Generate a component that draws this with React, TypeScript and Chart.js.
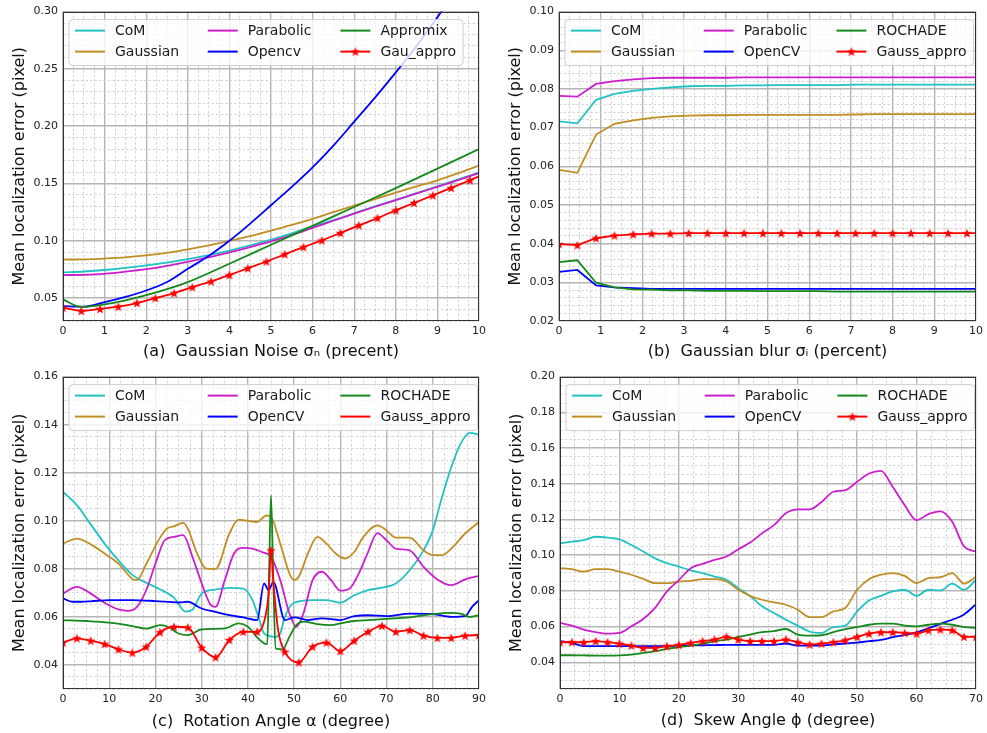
import React, { useEffect, useRef } from 'react';
import { Chart, registerables } from 'chart.js';

Chart.register(...registerables);

const FONT = '"DejaVu Sans", "Noto Sans", sans-serif';

const COL_COM = '#22c2c2';
const COL_GAUSS = '#c08e22';
const COL_PARA = '#cc1fcc';
const COL_CV = '#0000ff';
const COL_ROCH = '#14881a';
const COL_GA = '#ff0000';

// ---------- (a) Gaussian noise ----------
const aX = [0, 0.5, 1, 1.5, 2, 2.5, 3, 3.5, 4, 4.5, 5, 5.5, 6, 6.5, 7, 7.5, 8, 8.5, 9, 9.5, 10];
const aCoM = [0.0724, 0.0732, 0.0745, 0.0763, 0.0785, 0.081, 0.084, 0.0875, 0.0915, 0.096, 0.101, 0.1065, 0.1125, 0.118, 0.124, 0.13, 0.1357, 0.1416, 0.1475, 0.1535, 0.1594];
const aGaussian = [0.0836, 0.0838, 0.0845, 0.0855, 0.0872, 0.0895, 0.0925, 0.096, 0.1, 0.104, 0.1088, 0.1138, 0.1192, 0.125, 0.1307, 0.1364, 0.1421, 0.1475, 0.1528, 0.159, 0.1657];
const aParabolic = [0.0701, 0.0703, 0.0712, 0.073, 0.0752, 0.0782, 0.0818, 0.0855, 0.0898, 0.0945, 0.0995, 0.105, 0.1112, 0.1175, 0.1237, 0.1297, 0.1355, 0.1413, 0.147, 0.153, 0.1592];
const aOpencv = [0.043, 0.0425, 0.0465, 0.051, 0.0566, 0.064, 0.0755, 0.0867, 0.1, 0.115, 0.131, 0.147, 0.164, 0.183, 0.204, 0.225, 0.247, 0.27, 0.295, 0.322, 0.35];
const aApproX = [0, 0.44, 1, 1.5, 2, 3, 4, 5, 6, 7, 8, 9, 10];
const aAppromix = [0.0488, 0.0423, 0.0445, 0.048, 0.0525, 0.064, 0.08, 0.0965, 0.113, 0.1295, 0.146, 0.163, 0.18];
const aGaX = [0, 0.44, 0.89, 1.33, 1.78, 2.22, 2.67, 3.11, 3.56, 4, 4.44, 4.89, 5.33, 5.78, 6.22, 6.67, 7.11, 7.56, 8, 8.44, 8.89, 9.33, 9.78, 10];
const aGauAppro = [0.0417, 0.0388, 0.0405, 0.0425, 0.0457, 0.05, 0.0543, 0.0595, 0.0645, 0.0701, 0.076, 0.0819, 0.0882, 0.0945, 0.1003, 0.1068, 0.1134, 0.1198, 0.1266, 0.133, 0.1396, 0.1461, 0.1528, 0.1562];

// ---------- (b) Gaussian blur ----------
const bX = [0, 0.44, 0.89, 1.33, 1.78, 2.22, 2.67, 3.11, 3.56, 4, 4.44, 4.89, 5.33, 5.78, 6.22, 6.67, 7.11, 7.56, 8, 8.44, 8.89, 9.33, 9.78, 10];
const bCoM = [0.0716, 0.0711, 0.0772, 0.0787, 0.0795, 0.08, 0.0804, 0.0807, 0.0808, 0.0808, 0.0809, 0.0809, 0.081, 0.081, 0.081, 0.081, 0.0811, 0.0811, 0.0811, 0.0811, 0.0811, 0.0811, 0.0811, 0.0811];
const bGaussian = [0.0591, 0.0583, 0.0682, 0.071, 0.0719, 0.0725, 0.0729, 0.0731, 0.0732, 0.0732, 0.0733, 0.0733, 0.0733, 0.0733, 0.0733, 0.0733, 0.0734, 0.0735, 0.0735, 0.0735, 0.0735, 0.0735, 0.0735, 0.0735];
const bParabolic = [0.0782, 0.078, 0.0813, 0.082, 0.0825, 0.0828, 0.0829, 0.0829, 0.0829, 0.0829, 0.083, 0.083, 0.083, 0.083, 0.083, 0.083, 0.083, 0.083, 0.083, 0.083, 0.083, 0.083, 0.083, 0.083];
const bOpenCV = [0.0327, 0.0332, 0.0292, 0.0287, 0.0285, 0.0283, 0.0283, 0.0283, 0.0283, 0.0283, 0.0283, 0.0283, 0.0283, 0.0283, 0.0283, 0.0283, 0.0283, 0.0283, 0.0283, 0.0283, 0.0283, 0.0283, 0.0283, 0.0283];
const bRochade = [0.0352, 0.0357, 0.0299, 0.0287, 0.0282, 0.0281, 0.0279, 0.0279, 0.0278, 0.0278, 0.0278, 0.0277, 0.0277, 0.0277, 0.0277, 0.0276, 0.0276, 0.0276, 0.0276, 0.0276, 0.0276, 0.0276, 0.0276, 0.0276];
const bGaussAppro = [0.0399, 0.0396, 0.0414, 0.0421, 0.0424, 0.0426, 0.0426, 0.0427, 0.0427, 0.0427, 0.0427, 0.0427, 0.0427, 0.0427, 0.0427, 0.0427, 0.0427, 0.0427, 0.0427, 0.0427, 0.0427, 0.0427, 0.0427, 0.0427];

// ---------- (c) Rotation angle ----------
const cComX = [0, 3, 6, 9, 12, 15, 18, 21, 24, 26.5, 28, 30, 33, 36, 39, 41, 42.5, 43.5, 46, 47, 48, 50, 54, 57, 60, 63, 66, 69, 72, 75, 78, 80, 82, 84, 86, 88, 90];
const cComY = [0.112, 0.1065, 0.0985, 0.0905, 0.0835, 0.0775, 0.0742, 0.0715, 0.068, 0.0622, 0.063, 0.0697, 0.0714, 0.0721, 0.0718, 0.067, 0.0587, 0.0531, 0.0517, 0.0531, 0.06, 0.0659, 0.067, 0.067, 0.0659, 0.069, 0.0711, 0.0722, 0.0739, 0.0794, 0.0877, 0.096, 0.1099, 0.1223, 0.132, 0.1366, 0.1359];
const cGaussX = [0, 3, 6, 9, 12, 15, 16, 18, 21, 22.5, 24, 26, 27, 29, 31, 33, 36, 38, 40, 42, 44, 45, 47, 49, 50, 51, 53, 55, 57, 59, 61, 63, 65, 68, 70, 72, 75, 78, 80, 82, 84, 87, 90];
const cGaussY = [0.0905, 0.0926, 0.0902, 0.0864, 0.0822, 0.0758, 0.0753, 0.082, 0.093, 0.0968, 0.0977, 0.0991, 0.0967, 0.0864, 0.0801, 0.08, 0.0947, 0.1005, 0.1, 0.0995, 0.1022, 0.1016, 0.0905, 0.078, 0.0753, 0.0767, 0.0864, 0.0933, 0.0905, 0.0864, 0.0843, 0.087, 0.0933, 0.0981, 0.096, 0.093, 0.093, 0.0877, 0.0857, 0.0857, 0.0884, 0.0947, 0.0995];
const cParaX = [0, 3, 6, 9, 12, 14, 16, 18, 20, 22, 24, 26, 28, 30, 32, 33, 35, 37, 39, 41, 43, 45, 47, 49, 50.5, 52, 54, 56, 58, 60, 62, 64, 66, 68, 70, 72, 75, 78, 81, 84, 87, 90];
const cParaY = [0.0697, 0.0725, 0.0697, 0.0659, 0.0631, 0.0625, 0.0642, 0.0711, 0.0822, 0.0919, 0.0933, 0.094, 0.085, 0.074, 0.0649, 0.0642, 0.0753, 0.0864, 0.0887, 0.0884, 0.087, 0.085, 0.0753, 0.0614, 0.0559, 0.0614, 0.0753, 0.0788, 0.0753, 0.0709, 0.0718, 0.0781, 0.087, 0.0949, 0.0919, 0.0884, 0.0877, 0.0808, 0.0756, 0.0732, 0.0756, 0.0771];
const cCvX = [0, 2, 4, 6, 10, 15, 20, 25, 27, 30, 33, 36, 39, 42, 43.5, 44.5, 45.5, 48, 50, 53, 56, 60, 63, 66, 70, 75, 80, 84, 87, 88.5, 90];
const cCvY = [0.0677, 0.0663, 0.0663, 0.0665, 0.067, 0.067, 0.0666, 0.066, 0.0663, 0.0635, 0.0621, 0.0607, 0.0598, 0.0587, 0.0739, 0.0711, 0.0746, 0.0587, 0.0598, 0.0587, 0.0594, 0.0587, 0.0603, 0.0607, 0.0603, 0.0614, 0.0612, 0.06, 0.0603, 0.0642, 0.067];
const cRochX = [0, 5, 10, 15, 18, 21, 23, 25, 27, 30, 35, 38, 40, 42, 43.5, 44.2, 44.6, 45, 45.5, 46, 47.5, 49, 50.5, 52, 55, 58, 60, 63, 66, 70, 75, 80, 84, 86, 88, 90];
const cRochY = [0.0587, 0.0583, 0.0576, 0.0562, 0.0551, 0.0566, 0.0556, 0.0531, 0.0524, 0.0548, 0.0552, 0.0573, 0.0559, 0.0515, 0.049, 0.0487, 0.08, 0.1106, 0.075, 0.0469, 0.0465, 0.0518, 0.0566, 0.058, 0.057, 0.0566, 0.0573, 0.0583, 0.0587, 0.0592, 0.0598, 0.0612, 0.0617, 0.0614, 0.06, 0.0607];
const cRedX = [0, 3, 6, 9, 12, 15, 18, 21, 24, 27, 30, 33, 36, 39, 42, 43.5, 44.5, 45, 45.5, 46.5, 48, 51, 54, 57, 60, 63, 66, 69, 72, 75, 78, 81, 84, 87, 90];
const cRedY = [0.0493, 0.0511, 0.0501, 0.0487, 0.0465, 0.0451, 0.0476, 0.0536, 0.0559, 0.0556, 0.0472, 0.0432, 0.0504, 0.0538, 0.0538, 0.058, 0.07, 0.0877, 0.075, 0.055, 0.0455, 0.0411, 0.0476, 0.0493, 0.0458, 0.0501, 0.0538, 0.0563, 0.0538, 0.0545, 0.0522, 0.0513, 0.0513, 0.0522, 0.0524];

// ---------- (d) Skew angle ----------
const dX = [0, 2, 4, 6, 8, 10, 12, 14, 16, 18, 20, 22, 24, 26, 28, 30, 32, 34, 36, 38, 40, 42, 44, 46, 48, 50, 52, 54, 56, 58, 60, 62, 64, 66, 68, 70];
const dCoM = [0.1066, 0.1075, 0.1084, 0.1103, 0.1098, 0.1088, 0.1057, 0.102, 0.0982, 0.0955, 0.0936, 0.0914, 0.0899, 0.088, 0.0862, 0.0815, 0.0769, 0.0713, 0.0676, 0.0638, 0.0605, 0.0571, 0.0564, 0.0597, 0.0605, 0.0685, 0.0746, 0.0772, 0.0797, 0.0806, 0.0772, 0.0806, 0.0802, 0.084, 0.0806, 0.0862];
const dGaussian = [0.0927, 0.0921, 0.0908, 0.0921, 0.0921, 0.0908, 0.089, 0.0867, 0.0843, 0.0843, 0.0852, 0.0856, 0.0865, 0.0865, 0.0852, 0.0806, 0.0772, 0.075, 0.0735, 0.0722, 0.0694, 0.0653, 0.0653, 0.0685, 0.0704, 0.0806, 0.0865, 0.089, 0.0899, 0.0884, 0.0843, 0.0871, 0.0876, 0.0899, 0.084, 0.088];
const dParabolic = [0.062, 0.0605, 0.0583, 0.0568, 0.056, 0.0564, 0.0601, 0.0642, 0.0704, 0.0797, 0.086, 0.0927, 0.0951, 0.0973, 0.0992, 0.1033, 0.107, 0.1122, 0.1168, 0.1234, 0.1256, 0.1256, 0.1298, 0.1355, 0.1364, 0.1411, 0.1457, 0.1472, 0.1382, 0.128, 0.1196, 0.123, 0.1245, 0.1187, 0.1048, 0.102];
const dOpenCV = [0.0518, 0.0508, 0.049, 0.049, 0.049, 0.049, 0.049, 0.049, 0.049, 0.0491, 0.0493, 0.0494, 0.0495, 0.0496, 0.0497, 0.0497, 0.0497, 0.0497, 0.0497, 0.0505, 0.0493, 0.0493, 0.0494, 0.05, 0.0505, 0.051, 0.0518, 0.0525, 0.054, 0.0553, 0.0567, 0.059, 0.0615, 0.0638, 0.0668, 0.0725];
const dRochade = [0.0439, 0.0439, 0.0438, 0.0437, 0.0437, 0.0438, 0.0443, 0.0452, 0.0462, 0.0475, 0.0484, 0.0493, 0.0504, 0.0518, 0.0527, 0.0542, 0.0555, 0.0568, 0.0574, 0.0586, 0.0555, 0.0549, 0.0551, 0.0568, 0.0586, 0.0597, 0.061, 0.0616, 0.0616, 0.0605, 0.0601, 0.061, 0.0616, 0.061, 0.0597, 0.0592];
const dGaussAppro = [0.0512, 0.0512, 0.0512, 0.0518, 0.0512, 0.0504, 0.0493, 0.048, 0.048, 0.049, 0.0497, 0.0508, 0.0518, 0.0527, 0.0542, 0.0527, 0.0518, 0.0518, 0.0518, 0.0527, 0.0512, 0.0499, 0.0504, 0.0512, 0.0523, 0.0542, 0.056, 0.0568, 0.0568, 0.0564, 0.056, 0.0579, 0.0583, 0.0579, 0.0542, 0.0542];

type Series = { label: string; color: string; x: number[]; y: number[]; star?: boolean };
type PanelDef = {
  key: string;
  left: number; top: number; w: number; h: number;
  padding: { top: number; right: number; bottom: number; left: number };
  yWidth: number; xHeight: number;
  xMin: number; xMax: number; xMinor: number; xMajor: number;
  yMin: number; yMax: number; yMinor: number; yMajor: number;
  xTitle: string; yTitlePad: number; xTitlePad: number;
  series: Series[]; smooth: boolean; markAt: (x: number) => boolean; legendStar: boolean;
};

const pts = (xs: number[], ys: number[]) => xs.map((x, i) => ({ x, y: ys[i] }));
const isMajor = (v: number, major: number) => v != null && Math.abs(v / major - Math.round(v / major)) < 1e-6;
const makeTicks = (min: number, max: number, step: number) => {
  const out: number[] = [];
  const n = Math.round((max - min) / step);
  for (let i = 0; i <= n; i++) out.push(+(min + i * step).toFixed(6));
  return out;
};

let starCanvas: HTMLCanvasElement | null = null;
function getStar(): HTMLCanvasElement {
  if (starCanvas) return starCanvas;
  const r = 5;
  const size = 12;
  const c = document.createElement('canvas');
  c.width = size; c.height = size;
  const g = c.getContext('2d')!;
  g.beginPath();
  for (let k = 0; k < 10; k++) {
    const ang = -Math.PI / 2 + (k * Math.PI) / 5;
    const rr = k % 2 === 0 ? r : r * 0.42;
    g.lineTo(size / 2 + rr * Math.cos(ang), size / 2 + 0.4 + rr * Math.sin(ang));
  }
  g.closePath();
  g.fillStyle = COL_GA;
  g.fill();
  starCanvas = c;
  return c;
}

function legendPlugin(showStar: boolean) {
  return {
    id: 'gridLegendFrame',
    afterDraw(chart: any) {
      const ctx: CanvasRenderingContext2D = chart.ctx;
      const { left, top, right, bottom } = chart.chartArea;
      const ds = chart.data.datasets;
      ctx.save();
      ctx.font = `14px ${FONT}`;
      const bx = left + 6, by = top + 8;
      const colW = 132.7;
      let maxRight = 0;
      ds.forEach((d: any, i: number) => {
        const col = Math.floor(i / 2);
        const tx = bx + 6 + col * colW + 40;
        maxRight = Math.max(maxRight, tx + ctx.measureText(d.label).width);
      });
      const bw = maxRight + 7 - bx, bh = 46, rad = 4;
      ctx.beginPath();
      ctx.moveTo(bx + rad, by);
      ctx.lineTo(bx + bw - rad, by);
      ctx.arcTo(bx + bw, by, bx + bw, by + rad, rad);
      ctx.lineTo(bx + bw, by + bh - rad);
      ctx.arcTo(bx + bw, by + bh, bx + bw - rad, by + bh, rad);
      ctx.lineTo(bx + rad, by + bh);
      ctx.arcTo(bx, by + bh, bx, by + bh - rad, rad);
      ctx.lineTo(bx, by + rad);
      ctx.arcTo(bx, by, bx + rad, by, rad);
      ctx.closePath();
      ctx.fillStyle = 'rgba(255,255,255,0.8)';
      ctx.fill();
      ctx.strokeStyle = '#cfcfcf';
      ctx.lineWidth = 1;
      ctx.stroke();
      ds.forEach((d: any, i: number) => {
        const col = Math.floor(i / 2), row = i % 2;
        const lx = bx + 6 + col * colW;
        const ly = by + 11 + row * 21;
        ctx.strokeStyle = d.borderColor;
        ctx.lineWidth = 2;
        ctx.beginPath();
        ctx.moveTo(lx, ly);
        ctx.lineTo(lx + 30, ly);
        ctx.stroke();
        if (showStar && d.star) {
          const s = getStar();
          ctx.drawImage(s, lx + 15 - s.width / 2, ly - s.height / 2);
        }
        ctx.fillStyle = '#1a1a1a';
        ctx.textBaseline = 'middle';
        ctx.textAlign = 'left';
        ctx.fillText(d.label, lx + 40, ly + 1);
      });
      ctx.strokeStyle = '#333';
      ctx.lineWidth = 1;
      ctx.strokeRect(Math.round(left) + 0.5, Math.round(top) + 0.5, Math.round(right - left) - 1, Math.round(bottom - top) - 1);
      ctx.restore();
    },
  };
}

function axisOpts(pos: 'left' | 'bottom', min: number, max: number, minor: number, major: number, dec: number,
  title: string, titlePad: number, size: number) {
  const major_ = (c: any) => isMajor(c?.tick?.value, major);
  return {
    type: 'linear',
    position: pos,
    min, max,
    afterBuildTicks: (s: any) => { s.ticks = makeTicks(min, max, minor).map((v) => ({ value: v })); },
    afterFit: (s: any) => { if (pos === 'left') s.width = size; else s.height = size; },
    ticks: {
      autoSkip: false, maxRotation: 0, minRotation: 0,
      padding: pos === 'left' ? 5 : 4,
      color: '#222',
      font: { size: 11, family: FONT },
      callback: (v: any) => (isMajor(Number(v), major) ? Number(v).toFixed(dec) : ''),
    },
    grid: {
      drawTicks: false,
      color: (c: any) => (major_(c) ? '#b6b6b6' : '#d0d0d0'),
      lineWidth: (c: any) => (major_(c) ? 1.4 : 0.9),
    },
    border: { display: false, dash: (c: any) => (major_(c) ? [] : [2.5, 2]) },
    title: {
      display: true, text: title, color: '#111',
      font: { size: 16, family: FONT },
      padding: pos === 'left' ? { top: titlePad, bottom: 0 } : { top: 0, bottom: titlePad },
    },
  };
}

function buildConfig(p: PanelDef) {
  const star = getStar();
  return {
    type: 'line',
    data: {
      datasets: p.series.map((s, i) => ({
        label: s.label,
        data: pts(s.x, s.y),
        borderColor: s.color,
        backgroundColor: s.color,
        borderWidth: 1.8,
        pointStyle: s.star ? star : 'circle',
        pointRadius: s.star ? (c: any) => (c.raw && p.markAt(c.raw.x) ? 5 : 0) : 0,
        pointHoverRadius: 0,
        cubicInterpolationMode: p.smooth ? 'monotone' : 'default',
        tension: 0,
        order: 10 - i,
        star: !!s.star,
      })),
    },
    options: {
      responsive: false,
      animation: false,
      events: [],
      layout: { padding: p.padding },
      plugins: { legend: { display: false }, tooltip: { enabled: false } },
      scales: {
        x: axisOpts('bottom', p.xMin, p.xMax, p.xMinor, p.xMajor, 0, p.xTitle, p.xTitlePad, p.xHeight),
        y: axisOpts('left', p.yMin, p.yMax, p.yMinor, p.yMajor, 2, 'Mean localization error (pixel)', p.yTitlePad, p.yWidth),
      },
    },
    plugins: [legendPlugin(p.legendStar)],
  };
}

const near3 = (x: number) => Math.abs(x / 3 - Math.round(x / 3)) < 1e-6;

const PANELS: PanelDef[] = [
  {
    key: 'a', left: 0, top: 0, w: 490, h: 365,
    padding: { top: 7, right: 7, bottom: 0, left: 0 }, yWidth: 63, xHeight: 44,
    xMin: 0, xMax: 10, xMinor: 0.25, xMajor: 1,
    yMin: 0.03, yMax: 0.3, yMinor: 0.01, yMajor: 0.05,
    xTitle: '(a)  Gaussian Noise σₙ (precent)', yTitlePad: 10, xTitlePad: 4,
    smooth: true, markAt: (x) => x < 9.9, legendStar: true,
    series: [
      { label: 'CoM', color: COL_COM, x: aX, y: aCoM },
      { label: 'Gaussian', color: COL_GAUSS, x: aX, y: aGaussian },
      { label: 'Parabolic', color: COL_PARA, x: aX, y: aParabolic },
      { label: 'Opencv', color: COL_CV, x: aX, y: aOpencv },
      { label: 'Appromix', color: COL_ROCH, x: aApproX, y: aAppromix },
      { label: 'Gau_appro', color: COL_GA, x: aGaX, y: aGauAppro, star: true },
    ],
  },
  {
    key: 'b', left: 490, top: 0, w: 497, h: 365,
    padding: { top: 7, right: 8, bottom: 0, left: 0 }, yWidth: 69, xHeight: 44,
    xMin: 0, xMax: 10, xMinor: 0.25, xMajor: 1,
    yMin: 0.02, yMax: 0.1, yMinor: 0.002, yMajor: 0.01,
    xTitle: '(b)  Gaussian blur σᵢ (percent)', yTitlePad: 16, xTitlePad: 4,
    smooth: false, markAt: (x) => x < 9.9, legendStar: true,
    series: [
      { label: 'CoM', color: COL_COM, x: bX, y: bCoM },
      { label: 'Gaussian', color: COL_GAUSS, x: bX, y: bGaussian },
      { label: 'Parabolic', color: COL_PARA, x: bX, y: bParabolic },
      { label: 'OpenCV', color: COL_CV, x: bX, y: bOpenCV },
      { label: 'ROCHADE', color: COL_ROCH, x: bX, y: bRochade },
      { label: 'Gauss_appro', color: COL_GA, x: bX, y: bGaussAppro, star: true },
    ],
  },
  {
    key: 'c', left: 0, top: 365, w: 490, h: 368,
    padding: { top: 11, right: 7, bottom: 0, left: 0 }, yWidth: 63, xHeight: 44,
    xMin: 0, xMax: 90, xMinor: 2.5, xMajor: 10,
    yMin: 0.03, yMax: 0.16, yMinor: 0.005, yMajor: 0.02,
    xTitle: '(c)  Rotation Angle α (degree)', yTitlePad: 10, xTitlePad: 2,
    smooth: true, markAt: near3, legendStar: false,
    series: [
      { label: 'CoM', color: COL_COM, x: cComX, y: cComY },
      { label: 'Gaussian', color: COL_GAUSS, x: cGaussX, y: cGaussY },
      { label: 'Parabolic', color: COL_PARA, x: cParaX, y: cParaY },
      { label: 'OpenCV', color: COL_CV, x: cCvX, y: cCvY },
      { label: 'ROCHADE', color: COL_ROCH, x: cRochX, y: cRochY },
      { label: 'Gauss_appro', color: COL_GA, x: cRedX, y: cRedY, star: true },
    ],
  },
  {
    key: 'd', left: 490, top: 365, w: 497, h: 368,
    padding: { top: 11, right: 8, bottom: 0, left: 0 }, yWidth: 70, xHeight: 44,
    xMin: 0, xMax: 70, xMinor: 2.5, xMajor: 10,
    yMin: 0.025, yMax: 0.2, yMinor: 0.005, yMajor: 0.02,
    xTitle: '(d)  Skew Angle ϕ (degree)', yTitlePad: 17, xTitlePad: 3,
    smooth: true, markAt: () => true, legendStar: true,
    series: [
      { label: 'CoM', color: COL_COM, x: dX, y: dCoM },
      { label: 'Gaussian', color: COL_GAUSS, x: dX, y: dGaussian },
      { label: 'Parabolic', color: COL_PARA, x: dX, y: dParabolic },
      { label: 'OpenCV', color: COL_CV, x: dX, y: dOpenCV },
      { label: 'ROCHADE', color: COL_ROCH, x: dX, y: dRochade },
      { label: 'Gauss_appro', color: COL_GA, x: dX, y: dGaussAppro, star: true },
    ],
  },
];

function Panel({ def }: { def: PanelDef }) {
  const ref = useRef<HTMLCanvasElement | null>(null);
  useEffect(() => {
    const canvas = ref.current;
    if (!canvas) return;
    const chart = new Chart(canvas, buildConfig(def) as any);
    return () => chart.destroy();
  }, [def]);
  return (
    <canvas
      ref={ref}
      width={def.w}
      height={def.h}
      style={{ position: 'absolute', left: def.left, top: def.top, width: def.w, height: def.h }}
    />
  );
}

export default function App() {
  return (
    <div style={{ position: 'absolute', left: 0, top: 0, width: 987, height: 733, background: '#fff', overflow: 'hidden' }}>
      {PANELS.map((p) => (
        <Panel key={p.key} def={p} />
      ))}
    </div>
  );
}
